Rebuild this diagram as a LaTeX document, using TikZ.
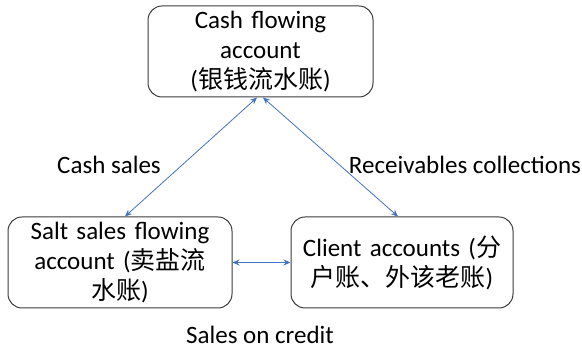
\documentclass[tikz,border=0pt]{standalone}
\usepackage{fontspec}
\setmainfont{Carlito}
\newfontfamily\cjk{Noto Sans CJK SC}
\usetikzlibrary{arrows.meta,positioning}
\definecolor{linkblue}{HTML}{4472C4}
\definecolor{boxgray}{HTML}{3A3A3A}
\tikzset{
	>={Stealth[length=7pt,width=6pt]},
	account/.style={
		rectangle,
		rounded corners=14pt,
		draw=boxgray, line width=1pt,
		minimum width=224pt,
		minimum height=91pt,
		text width=214pt,
		text centered,
		font=\fontsize{25pt}{30pt}\selectfont},
	flow/.style={draw=linkblue, thick, <->},
	flowlabel/.style={inner sep=1pt, font=\fontsize{25pt}{30pt}\selectfont},
}

\begin{document}
\begin{tikzpicture}[x=1pt,y=1pt]
\useasboundingbox (0,0) rectangle (582,350);
\node[account, minimum width=225pt] (cash) at (260.5,298.5)
	{Cash flowing\\account\\({\cjk 银钱流水账})};
\node[account] (salt) at (120,87.5)
	{Salt sales flowing\\account ({\cjk 卖盐流}\\{\cjk 水账})};
\node[account, minimum width=222pt] (client) at (402,87.5)
	{Client accounts ({\cjk 分}\\{\cjk 户账、外该老账})};

% connectors
\draw[flow] ([xshift=5pt]salt.north) -- ([xshift=-3.5pt]cash.south);
\draw[flow] ([xshift=-4pt]client.north) -- ([xshift=2.5pt]cash.south);
\draw[flow] (salt.east) -- (client.west);

\node[flowlabel] (cashsales) at (109,185) {Cash sales};
\node[flowlabel] (recv) at (465,185) {Receivables collections};
\node[flowlabel] (credit) at (260,15) {Sales on credit};
\end{tikzpicture}
\end{document}
